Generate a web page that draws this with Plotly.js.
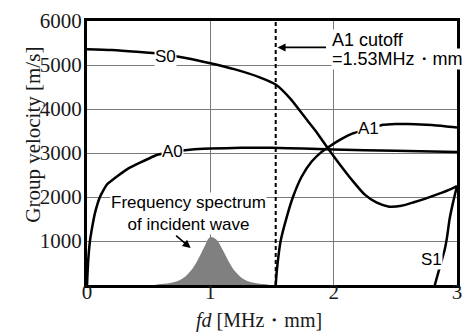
<!DOCTYPE html>
<html>
<head>
<meta charset="utf-8">
<script src="https://cdn.plot.ly/plotly-3.0.1.min.js"></script>
<style>html,body{margin:0;padding:0;background:#fff;}</style>
</head>
<body>
<div id="chart" style="width:466px;height:334px;"></div>
<script>
// Dispersion curves (fd in MHz·mm, group velocity in m/s)
var s0X = [0, 0.2, 0.4, 0.6, 0.8, 1.0, 1.2, 1.4, 1.53, 1.65, 1.77, 1.86, 1.95, 2.05, 2.15, 2.25, 2.35, 2.45, 2.55, 2.65, 2.75, 2.85, 2.95, 3.0];
var s0Y = [5360, 5340, 5300, 5250, 5160, 5040, 4900, 4720, 4555, 4230, 3800, 3480, 3120, 2740, 2380, 2060, 1870, 1780, 1800, 1880, 1970, 2070, 2180, 2250];

var a0X = [0, 0.01, 0.024, 0.038, 0.065, 0.105, 0.16, 0.24, 0.33, 0.43, 0.57, 0.7, 0.85, 1.0, 1.25, 1.5, 1.75, 2.0, 2.5, 3.0];
var a0Y = [0, 570, 1000, 1250, 1640, 2000, 2280, 2460, 2640, 2780, 2960, 3030, 3080, 3100, 3120, 3120, 3100, 3080, 3050, 3020];

var a1X = [1.53, 1.54, 1.57, 1.62, 1.67, 1.74, 1.82, 1.9, 1.95, 2.05, 2.15, 2.27, 2.4, 2.5, 2.6, 2.75, 2.9, 3.0];
var a1Y = [0, 350, 1000, 1550, 2000, 2460, 2800, 3020, 3120, 3300, 3440, 3540, 3640, 3660, 3660, 3640, 3610, 3580];

var s1X = [2.82, 2.86, 2.9, 2.92, 2.94, 2.97, 3.0];
var s1Y = [0, 400, 800, 1100, 1500, 1900, 2250];

// Frequency spectrum of incident wave (arbitrary scale drawn on velocity axis)
var specX = [0.55, 0.6, 0.65, 0.7, 0.75, 0.8, 0.85, 0.9, 0.95, 1.0, 1.05, 1.1, 1.15, 1.2, 1.25, 1.3, 1.35, 1.4, 1.45, 1.48];
var specY = [0, 20, 35, 60, 110, 200, 350, 580, 860, 1090, 1030, 800, 530, 310, 170, 90, 50, 30, 15, 0];

var cutoffFd = 1.53;
var xTicks = [0, 1, 2, 3];
var yTicks = [1000, 2000, 3000, 4000, 5000, 6000];

var lineStyle = {color: '#000', width: 2.5, shape: 'spline', smoothing: 0.6};
var a0Style = {color: '#000', width: 2.5, shape: 'spline', smoothing: 0.35};

var traces = [
  {x: specX, y: specY, type: 'scatter', mode: 'lines', fill: 'tozeroy',
   fillcolor: '#808080', line: {color: '#808080', width: 0, shape: 'spline'}, hoverinfo: 'skip'},
  {x: s0X, y: s0Y, type: 'scatter', mode: 'lines', line: lineStyle, name: 'S0'},
  {x: a0X, y: a0Y, type: 'scatter', mode: 'lines', line: a0Style, name: 'A0'},
  {x: a1X, y: a1Y, type: 'scatter', mode: 'lines', line: lineStyle, name: 'A1'},
  {x: s1X, y: s1Y, type: 'scatter', mode: 'lines', line: lineStyle, name: 'S1'}
];

var sans = 'Liberation Sans';
var serif = 'Liberation Serif';

function lbl(text, x, y, size) {
  return {text: text, x: x, y: y, xref: 'x', yref: 'y', showarrow: false,
    font: {family: sans, size: size, color: '#000'}, bgcolor: '#fff', borderpad: 0,
    xanchor: 'center', yanchor: 'middle'};
}

var layout = {
  width: 466, height: 334,
  margin: {l: 87, r: 9, t: 21, b: 49},
  paper_bgcolor: '#fff', plot_bgcolor: '#fff',
  showlegend: false,
  xaxis: {range: [0, 3], tickvals: xTicks, ticktext: xTicks.map(String),
    showline: true, mirror: true, linecolor: '#000', linewidth: 3,
    showgrid: true, gridcolor: '#7a7a7a', gridwidth: 1, zeroline: false,
    ticks: '', ticklabelstandoff: -14,
    tickfont: {family: serif, size: 21, color: '#1a1a1a'}},
  yaxis: {range: [0, 6000], tickvals: yTicks, ticktext: yTicks.map(String),
    showline: true, mirror: true, linecolor: '#000', linewidth: 3,
    showgrid: true, gridcolor: '#7a7a7a', gridwidth: 1, zeroline: false,
    ticks: '', ticklabelstandoff: -2,
    tickfont: {family: serif, size: 21, color: '#1a1a1a'}},
  shapes: [
    {type: 'line', xref: 'x', yref: 'y', x0: cutoffFd, x1: cutoffFd, y0: 0, y1: 6000,
     line: {color: '#000', width: 2, dash: '4px,3px'}}
  ],
  annotations: [
    lbl('S0', 0.64, 5190, 17),
    lbl('A0', 0.69, 3030, 17),
    lbl('A1', 2.28, 3560, 17),
    lbl('S1', 2.79, 590, 17),
    {text: 'Frequency spectrum<br>of incident wave', x: 0.82, y: 1615, xref: 'x', yref: 'y', showarrow: false,
     font: {family: sans, size: 17, color: '#000'}, bgcolor: '#fff', borderpad: 0,
     xanchor: 'center', yanchor: 'middle'},
    {text: '', x: 0.84, y: 840, ax: 0.71, ay: 1150, xref: 'x', yref: 'y', axref: 'x', ayref: 'y',
     showarrow: true, arrowhead: 2, arrowsize: 1, arrowwidth: 1.6, arrowcolor: '#000'},
    {text: 'A1 cutoff', x: 1.975, y: 5560, xref: 'x', yref: 'y', xanchor: 'left', yanchor: 'middle',
     showarrow: false, font: {family: sans, size: 18, color: '#000'}, bgcolor: '#fff', borderpad: 0},
    {text: '=1.53MHz・mm', x: 1.975, y: 5140, xref: 'x', yref: 'y', xanchor: 'left', yanchor: 'middle',
     showarrow: false, font: {family: sans, size: 18, color: '#000'}, bgcolor: '#fff', borderpad: 0},
    {text: '', x: 1.545, y: 5400, ax: 1.95, ay: 5400, xref: 'x', yref: 'y', axref: 'x', ayref: 'y',
     showarrow: true, arrowhead: 2, arrowsize: 1, arrowwidth: 1.6, arrowcolor: '#000'},
    {text: 'Group velocity [m/s]', xref: 'paper', yref: 'paper', x: -0.148, y: 0.57,
     textangle: -90, showarrow: false, xanchor: 'center', yanchor: 'middle',
     font: {family: serif, size: 21, color: '#1a1a1a'}},
    {text: '<i>fd</i> [MHz・mm]', xref: 'paper', yref: 'paper', x: 0.465, y: -0.135,
     showarrow: false, xanchor: 'center', yanchor: 'middle',
     font: {family: serif, size: 20, color: '#1a1a1a'}}
  ]
};

Plotly.newPlot('chart', traces, layout, {displayModeBar: false, staticPlot: true});
</script>
</body>
</html>
